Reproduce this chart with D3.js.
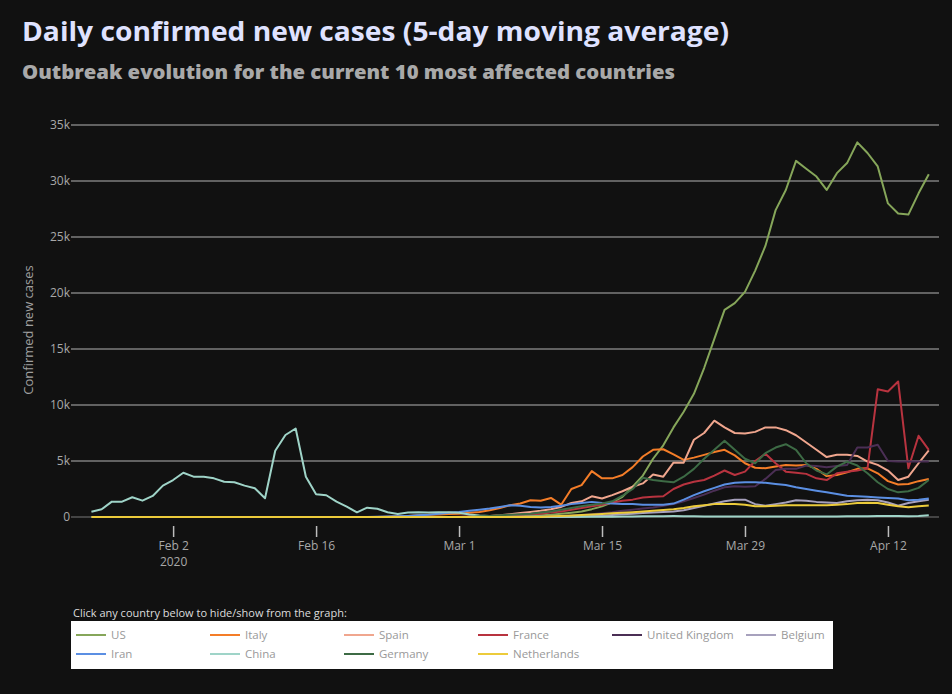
<!DOCTYPE html>
<html>
<head>
<meta charset="utf-8">
<script src="https://cdn.jsdelivr.net/npm/d3@7"></script>
<style>
  html, body { margin: 0; padding: 0; background: #111111; }
  svg { display: block; }
  text { font-family: "Open Sans", "Noto Sans", sans-serif; }
</style>
</head>
<body>
<svg id="chart" width="952" height="694"></svg>
<script>
// ---------- data ----------
const startDate = "2020-01-25";   // first day of the series
const dayCount = 83;              // Jan 25 .. Apr 16

const countries = ["US", "Italy", "Spain", "France", "United Kingdom", "Belgium", "Iran", "China", "Germany", "Netherlands"];
const colors = ["#86a65a", "#f47d28", "#f0a68e", "#b8333f", "#4b2f55", "#a7a1bd", "#5b8fe3", "#9fd4c8", "#3d6b45", "#eccb3b"];

const usValues = [0,0,0,0,0,0,0,1,1,1, 1,1,1,1,1,1,1,1,1,1, 1,1,1,1,1,1,1,1,1,1, 2,3,4,5,6,8,10,15,20,30,
  40,60,80,110,150,200,280,380,500,700, 950,1300,1800,2700,3700,5200,6400,8000,9400,11000,
  13300,15900,18500,19100,20100,22000,24200,27400,29200,31800, 31100,30400,29200,30700,31600,33450,32500,31300,28000,27100,
  27000,28900,30600];
const italyValues = [0,0,0,0,0,0,0,0,0,0, 0,0,0,0,0,0,0,0,0,0, 0,0,0,0,0,0,0,0,0,
  30,60,100,150,200,230,260,300,380,450, 600,800,1050,1200,1500,1450,1700,1100,2500,2850,
  4100,3450,3450,3750,4450,5400,6000,6050,5600,5100, 5300,5550,5800,6000,5500,4800,4400,4350,4500,4650,
  4600,4650,4300,3650,3750,4000,4300,4350,3900,3200, 2900,2950,3200,3400];
const spainValues = [0,0,0,0,0,0,0,0,0,0, 0,0,0,0,0,0,0,0,0,0, 0,0,0,0,0,0,0,0,0,0, 0,0,0,0,0,0,0,0,
  50,80,150,250,350,450,550,700,900,1250, 1400,1850,1650,1950,2300,2700,3000,3800,3600,4850,
  4850,6900,7500,8600,8000,7500,7450,7600,8000,8000, 7750,7300,6650,6000,5350,5550,5550,5450,4950,4650,
  4150,3300,3600,4800,5950];
const franceValues = [0,0,0,0,0,0,0,0,0,0, 0,0,0,0,0,0,0,0,0,0, 0,0,0,0,0,0,0,0,0,0, 0,0,0,0,0,0,
  20,40,60,90,120,150,200,250,300,400, 500,650,800,950,1100,1300,1450,1550,1750,1800,
  1850,2500,2900,3150,3300,3700,4150,3750,4050,5000, 5650,4800,4050,3950,3850,3450,3300,3900,4050,4150,
  4350,11400,11200,12100,4350,7250,6000];
const ukValues = [0,0,0,0,0,0,0,0,0,0, 0,0,0,0,0,0,0,0,0,0, 0,0,0,0,0,0,0,0,0,0, 0,0,0,0,0,0,0,0,0,0, 0,0,0,0,0,
  50,80,120,170,250,330,420,550,650,750, 850,1000,1150,1400,1700,2000,2350,2650,2750,2700,
  2750,3400,4200,4300,4300,4600,4550,4450,4550,4650, 6200,6200,6450,5000,4950,4950,4950,4950];
const belgiumValues = [0,0,0,0,0,0,0,0,0,0, 0,0,0,0,0,0,0,0,0,0, 0,0,0,0,0,0,0,0,0,0, 0,0,0,0,0,0,0,0,0,0, 0,0,0,0,0,0,0,0,
  50,80,120,180,250,300,350,400,450,500, 600,800,1000,1200,1400,1550,1550,1150,1000,1150,
  1300,1500,1450,1350,1300,1250,1400,1500,1550,1500, 1300,1000,1250,1400,1550];
const iranValues = [0,0,0,0,0,0,0,0,0,0, 0,0,0,0,0,0,0,0,0,0, 0,0,0,0,0,0,0,0,
  20,40,70,100,150,200,300,380,450,550, 650,750,900,1050,1000,900,850,900,1000,1150,
  1250,1350,1250,1200,1150,1150,1100,1100,1100,1200, 1550,1950,2300,2600,2900,3050,3100,3100,3050,2950,
  2850,2650,2500,2350,2200,2050,1900,1850,1800,1750, 1700,1650,1500,1550,1650];
const chinaValues = [470,690,1370,1370,1760,1460,1880,2800,3300,3950, 3600,3600,3450,3150,3100,2800,2560,1670,5920,7320,
  7900,3600,2030,1940,1370,920,420,830,740,
  430,260,400,430,400,420,420,380,230,130, 80,50,40,30,25,20,15,15,20,20,
  25,25,30,40,50,60,70,75,80,70, 60,55,50,50,50,50,55,50,45,40,
  40,45,45,50,55,60,65,70,80,90, 80,70,90,150];
const germanyValues = [0,0,0,0,0,0,0,0,0,0, 0,0,0,0,0,0,0,0,0,0, 0,0,0,0,0,0,0,0,0,0, 0,0,0,0,0,0,0,0,
  60,100,150,200,250,300,400,500,650,800, 950,1100,1200,1400,1900,2500,3500,3300,3200,3100,
  3600,4300,5200,6000,6800,6000,5200,4800,5700,6200, 6500,6000,4800,4150,3800,4500,4950,4600,3900,3100,
  2500,2200,2300,2600,3300];
const netherlandsValues = [0,0,0,0,0,0,0,0,0,0, 0,0,0,0,0,0,0,0,0,0, 0,0,0,0,0,0,0,0,0,0, 0,0,0,0,0,0,0,0,0,0, 0,0,0,0,0,
  60,100,130,170,220,270,330,380,430,500, 560,620,690,800,950,1050,1150,1150,1150,1100,
  950,950,1000,1050,1050,1050,1050,1050,1100,1150, 1250,1280,1250,1100,950,880,950,1020];

const seriesValues = [usValues, italyValues, spainValues, franceValues, ukValues, belgiumValues, iranValues, chinaValues, germanyValues, netherlandsValues];

const yTicks = [0, 5000, 10000, 15000, 20000, 25000, 30000, 35000];
const xTickDates = ["2020-02-02", "2020-02-16", "2020-03-01", "2020-03-15", "2020-03-29", "2020-04-12"];
const xTickLabels = ["Feb 2", "Feb 16", "Mar 1", "Mar 15", "Mar 29", "Apr 12"];
const xTickSubLabels = ["2020", "", "", "", "", ""];

const titleText = "Daily confirmed new cases (5-day moving average)";
const subtitleText = "Outbreak evolution for the current 10 most affected countries";
const yAxisTitle = "Confirmed new cases";
const legendHeader = "Click any country below to hide/show from the graph:";

// ---------- drawing ----------
const parse = d3.utcParse("%Y-%m-%d");
const start = parse(startDate);
const dates = d3.utcDay.range(start, d3.utcDay.offset(start, dayCount));

const svg = d3.select("#chart");
svg.append("rect").attr("width", 952).attr("height", 694).attr("fill", "#111111");

const x = d3.scaleUtc()
  .domain([parse("2020-01-23"), parse("2020-04-17")])
  .range([71, 939]);
const y = d3.scaleLinear().domain([0, 35000]).range([517, 125]);

// titles
svg.append("text").attr("x", 22).attr("y", 41)
  .attr("font-family", "Inter, 'Open Sans', sans-serif")
  .attr("font-size", 27).attr("font-weight", 700).attr("fill", "#dfe2ff")
  .attr("textLength", 707).attr("lengthAdjust", "spacingAndGlyphs")
  .text(titleText);
svg.append("text").attr("x", 22).attr("y", 79)
  .attr("font-family", "Inter, 'Open Sans', sans-serif")
  .attr("font-size", 20).attr("font-weight", 800).attr("fill", "#a9a9a9")
  .attr("textLength", 653).attr("lengthAdjust", "spacingAndGlyphs")
  .text(subtitleText);

// y grid + labels
const yAxis = d3.axisLeft(y).tickValues(yTicks)
  .tickFormat(d => d === 0 ? "0" : d3.format("~s")(d))
  .tickSize(0).tickPadding(1);
const gy = svg.append("g").attr("transform", "translate(71,0)").call(yAxis);
gy.select(".domain").remove();
gy.selectAll("text").attr("fill", "#a8a8a8").attr("font-size", 12)
  .attr("font-family", '"Open Sans", "Noto Sans", sans-serif');

const grid = svg.append("g");
grid.selectAll("line").data(yTicks.filter(d => d !== 0)).join("line")
  .attr("x1", 71).attr("x2", 939)
  .attr("y1", d => y(d)).attr("y2", d => y(d))
  .attr("stroke", "#b4b4b4").attr("stroke-width", 1.2);
grid.append("line").attr("x1", 71).attr("x2", 939)
  .attr("y1", y(0)).attr("y2", y(0))
  .attr("stroke", "#444444").attr("stroke-width", 2);

// y title
svg.append("text")
  .attr("transform", `translate(33,${(y(0) + y(35000)) / 2 + 9}) rotate(-90)`)
  .attr("text-anchor", "middle").attr("font-size", 13).attr("fill", "#a0a0a0")
  .text(yAxisTitle);

// x axis
const xTicks = xTickDates.map(parse);
const xAxis = d3.axisBottom(x).tickValues(xTicks)
  .tickFormat((d, i) => xTickLabels[i]).tickSize(11).tickPadding(4);
const gx = svg.append("g").attr("transform", "translate(0,526)").call(xAxis);
gx.select(".domain").remove();
gx.selectAll(".tick line").attr("stroke", "#bdbdbd").attr("stroke-width", 1.5);
gx.selectAll("text").attr("fill", "#a8a8a8").attr("font-size", 12)
  .attr("font-family", '"Open Sans", "Noto Sans", sans-serif');
gx.selectAll(".tick").append("text")
  .attr("y", 40).attr("fill", "#a8a8a8").attr("font-size", 12)
  .attr("text-anchor", "middle")
  .text((d, i) => xTickSubLabels[i]);

// lines
const line = d3.line().x((d, i) => x(dates[i])).y(d => y(d));
const lines = svg.append("g").attr("fill", "none").attr("stroke-width", 2)
  .attr("stroke-linejoin", "round");
countries.forEach((c, k) => {
  lines.append("path").datum(seriesValues[k])
    .attr("stroke", colors[k]).attr("d", line);
});

// legend
svg.append("text").attr("x", 73).attr("y", 617)
  .attr("font-size", 11).attr("fill", "#dddddd").text(legendHeader);
svg.append("rect").attr("x", 71).attr("y", 621).attr("width", 762).attr("height", 48)
  .attr("fill", "#ffffff");
const perRow = 6;
const item = svg.append("g").selectAll("g").data(countries).join("g")
  .attr("transform", (d, i) => `translate(${76 + (i % perRow) * 134},${635 + Math.floor(i / perRow) * 19})`);
item.append("line").attr("x1", 0).attr("x2", 30)
  .attr("stroke", (d, i) => colors[i]).attr("stroke-width", 2);
item.append("text").attr("x", 35).attr("y", 4)
  .attr("font-size", 11.5).attr("fill", "#999999").text(d => d);
</script>
</body>
</html>
